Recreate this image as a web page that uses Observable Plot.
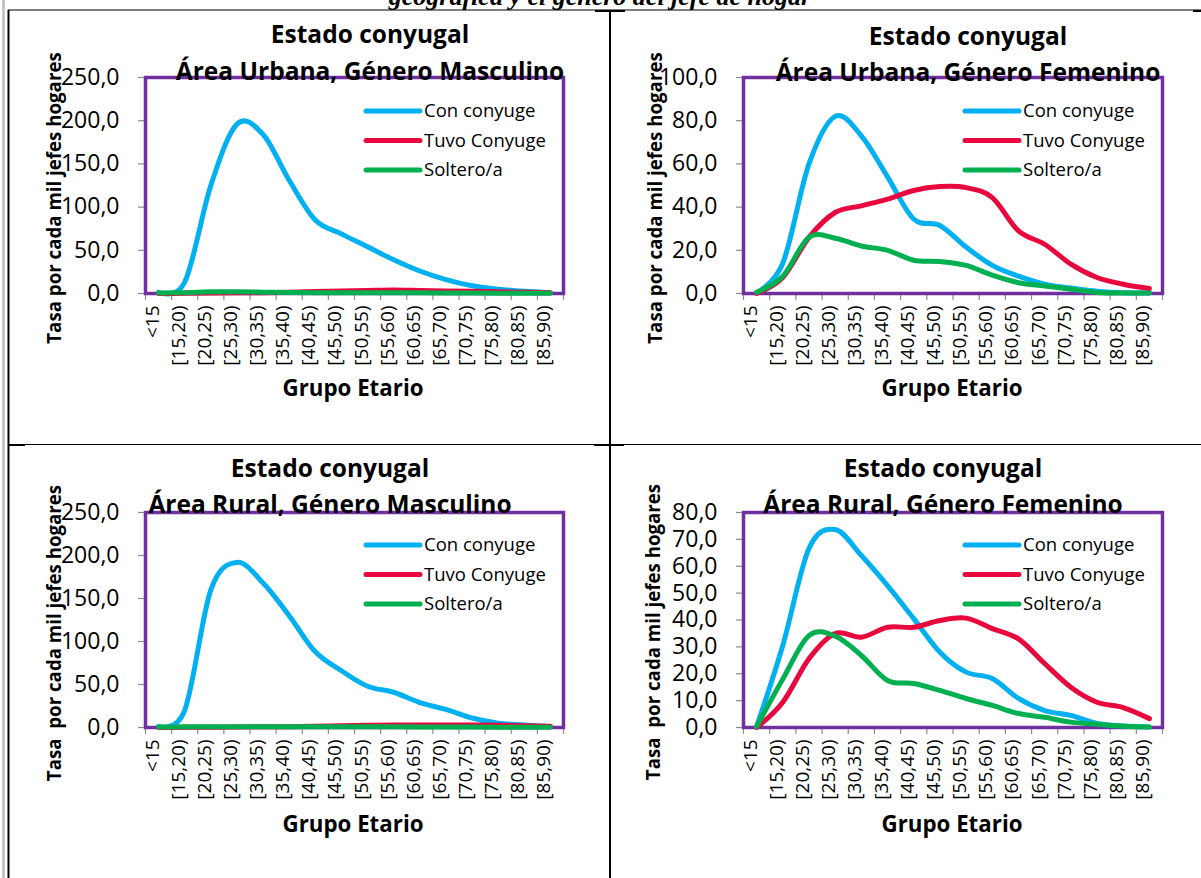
<!DOCTYPE html>
<html><head><meta charset="utf-8">
<script src="https://cdn.jsdelivr.net/npm/d3@7"></script>
<script src="https://cdn.jsdelivr.net/npm/@observablehq/plot@0.6"></script>
<style>
html,body{margin:0;padding:0;background:#fff;}
#root{position:relative;width:1201px;height:878px;overflow:hidden;font-family:'Open Sans',sans-serif;}
.panel{position:absolute;}
#overlay{position:absolute;left:0;top:0;pointer-events:none;}
</style></head><body><div id="root"></div>
<script>
// ---------- data ----------
const categories = ["<15","[15,20)","[20,25)","[25,30)","[30,35)","[35,40)","[40,45)","[45,50)","[50,55)","[55,60)","[60,65)","[65,70)","[70,75)","[75,80)","[80,85)","[85,90)"];
const seriesNames = ["Con conyuge","Tuvo Conyuge","Soltero/a"];
const seriesColors = ["#00B0F0","#E8083E","#00B050"];

const yTicksMasc = [0,50,100,150,200,250];
const yTicksUrbFem = [0,20,40,60,80,100];
const yTicksRurFem = [0,10,20,30,40,50,60,70,80];

const urbMascCon  = [1.5, 13, 125, 196, 184, 131, 85, 69, 54, 39, 26, 16, 9, 5, 2.5, 1];
const urbMascTuvo = [0, 0.2, 0.5, 0.8, 1, 1.5, 2.2, 3, 3.5, 4, 3.5, 3, 2.5, 2, 1.5, 1];
const urbMascSol  = [0.5, 1, 2, 2, 1.5, 1.2, 1, 1, 1, 1, 0.8, 0.6, 0.5, 0.4, 0.3, 0.2];

const urbFemCon  = [0.5, 14, 60, 82, 73, 54, 34.5, 31.5, 21.5, 13, 8, 4.3, 2.5, 1, 0.3, 0.2];
const urbFemTuvo = [0, 7.4, 26, 37.5, 40.6, 43.7, 47.7, 49.5, 49, 44.4, 29, 22.8, 13.6, 7.4, 4.3, 2.3];
const urbFemSol  = [0.5, 8, 26, 25.6, 22, 20, 15.4, 14.8, 13, 8.5, 5, 3.5, 2, 0.5, 0.2, 0.2];

const rurMascCon  = [1.5, 20, 160, 192, 168, 130, 88, 66, 48, 41, 29, 21, 11, 5, 3, 1];
const rurMascTuvo = [0, 0.2, 0.4, 0.6, 0.8, 1, 1.5, 2, 2.5, 2.8, 3, 3, 2.8, 2.5, 2, 1.5];
const rurMascSol  = [0.5, 0.8, 1, 1, 0.9, 0.8, 0.8, 0.8, 0.8, 0.8, 0.7, 0.6, 0.5, 0.4, 0.3, 0.3];

const rurFemCon  = [0.3, 30.5, 66.6, 73.7, 64, 52.8, 40.5, 28, 20.6, 18.2, 10.8, 6.3, 4.5, 1.5, 0.6, 0.2];
const rurFemTuvo = [0, 9.4, 25.6, 35, 33.6, 37.3, 37.3, 39.8, 40.7, 36.8, 33, 23.8, 15, 9.4, 7.4, 3.3];
const rurFemSol  = [0.3, 18, 34.2, 34, 26.8, 17.5, 16.4, 13.8, 10.8, 8.2, 5.2, 3.8, 2, 1.2, 0.5, 0.2];

const pageHeading = "geográfica y el género del jefe de hogar";
const titleLine1 = "Estado conyugal";
const yLabelUrb = "Tasa por cada mil jefes hogares";
const yLabelRur = "Tasa  por cada mil jefes hogares";
const xLabel = "Grupo Etario";

// ---------- layout ----------
const panels = [
  {left:0, top:0, width:605, height:440, mL:145, mR:42, mT:77, mB:147, yMax:250, yTicks:yTicksMasc,
   series:[urbMascCon,urbMascTuvo,urbMascSol], title2:"Área Urbana, Género Masculino", ylabel:yLabelUrb,
   tx:370, t1y:43, t2y:80, ylx:54, yly:198, gx:353, gy:396, legX:366, legY:111},
  {left:610, top:0, width:591, height:440, mL:133, mR:39, mT:77, mB:147, yMax:100, yTicks:yTicksUrbFem,
   series:[urbFemCon,urbFemTuvo,urbFemSol], title2:"Área Urbana, Género Femenino", ylabel:yLabelUrb,
   tx:968, t1y:45, t2y:81, ylx:655, yly:198, gx:952, gy:396, legX:965, legY:111},
  {left:0, top:440, width:605, height:438, mL:145, mR:42, mT:72, mB:151, yMax:250, yTicks:yTicksMasc,
   series:[rurMascCon,rurMascTuvo,rurMascSol], title2:"Área Rural, Género Masculino", ylabel:yLabelRur,
   tx:330, t1y:477, t2y:513, ylx:54, yly:633, gx:353, gy:832, legX:366, legY:545},
  {left:610, top:440, width:591, height:438, mL:133, mR:39, mT:72, mB:151, yMax:80, yTicks:yTicksRurFem,
   series:[rurFemCon,rurFemTuvo,rurFemSol], title2:"Área Rural, Género Femenino", ylabel:yLabelRur,
   tx:943, t1y:477, t2y:513, ylx:653, yly:632, gx:952, gy:832, legX:965, legY:545}
];

const root = document.getElementById("root");
const fmt = d => d.toFixed(1).replace(".", ",");
const boundaries = d3.range(categories.length + 1).map(i => i - 0.5);
const axisGray = "#8c8c8c";
const FONT = "'Open Sans', sans-serif";

for (const p of panels) {
  const marks = [
    Plot.ruleY(p.yTicks, {y: d => d, x1: () => -0.5, x2: () => -0.5, insetLeft: -7, stroke: axisGray, strokeWidth: 1.2}),
    Plot.ruleX(boundaries, {x: d => d, y1: () => 0, y2: () => 0, insetBottom: -7, stroke: axisGray, strokeWidth: 1.2}),
    Plot.text(p.yTicks, {y: d => d, frameAnchor: "left", text: d => fmt(d), textAnchor: "end", dx: -26, fontSize: 23, fill: "#000"}),
    Plot.text(categories, {x: (d, i) => i, frameAnchor: "bottom", text: d => d, rotate: -90, textAnchor: "end", dy: 12, fontSize: 19, fill: "#000"}),
    Plot.frame({stroke: "#7030A0", strokeWidth: 3.5}),
  ];
  p.series.forEach((vals, k) => {
    marks.push(Plot.line(vals.map((v, i) => ({i, v})), {x: "i", y: "v", stroke: seriesColors[k], strokeWidth: 5, curve: "cardinal", tension: 0}));
  });
  const chart = Plot.plot({
    width: p.width, height: p.height,
    marginLeft: p.mL, marginRight: p.mR, marginTop: p.mT, marginBottom: p.mB,
    x: {type: "linear", domain: [-0.5, categories.length - 0.5], axis: null},
    y: {type: "linear", domain: [0, p.yMax], axis: null},
    style: {fontFamily: FONT, background: "none", maxWidth: "none", overflow: "visible"},
    marks
  });
  const div = document.createElement("div");
  div.className = "panel";
  div.style.left = p.left + "px";
  div.style.top = p.top + "px";
  div.appendChild(chart);
  root.appendChild(div);
}

// ---------- overlay: table borders, titles, labels, legends ----------
const svg = d3.create("svg").attr("id", "overlay").attr("width", 1201).attr("height", 878)
  .attr("font-family", FONT);

svg.append("text").attr("x", 600).attr("y", 5).attr("text-anchor", "middle")
  .attr("font-family", "'Liberation Serif', serif").attr("font-weight", "bold").attr("font-style", "italic")
  .attr("font-size", 26).text(pageHeading);

const border = (x1, y1, x2, y2, w, c) => svg.append("line").attr("x1", x1).attr("y1", y1).attr("x2", x2).attr("y2", y2)
  .attr("stroke", c || "#000").attr("stroke-width", w);
border(3.5, 0, 3.5, 878, 2.5, "#bdbdbd");
border(8.5, 10, 8.5, 878, 2, "#000");
border(8, 10, 1201, 10, 1.2, "#000");
border(610, 10, 610, 878, 2, "#000");
border(8, 444.5, 1201, 444.5, 1.2, "#000");
border(595, 11, 625, 11, 2, "#000");
border(1193, 11, 1201, 11, 2, "#000");
border(9, 445, 25, 445, 2, "#000");
border(594, 445, 624, 445, 2, "#000");

for (const p of panels) {
  svg.append("text").attr("x", p.tx).attr("y", p.t1y).attr("text-anchor", "middle")
    .attr("font-weight", "bold").attr("font-size", 24.5).text(titleLine1);
  svg.append("text").attr("x", p.tx).attr("y", p.t2y).attr("text-anchor", "middle")
    .attr("font-weight", "bold").attr("font-size", 24.5).text(p.title2);
  svg.append("text").attr("transform", `translate(${p.ylx},${p.yly}) rotate(-90)`)
    .attr("text-anchor", "middle").attr("dy", "0.35em").attr("font-weight", "bold").attr("font-size", 18.7)
    .attr("xml:space", "preserve").style("white-space", "pre").text(p.ylabel);
  svg.append("text").attr("x", p.gx).attr("y", p.gy).attr("text-anchor", "middle")
    .attr("font-weight", "bold").attr("font-size", 22.3).text(xLabel);
  seriesNames.forEach((name, k) => {
    const y = p.legY + k * 29.5;
    svg.append("line").attr("x1", p.legX).attr("x2", p.legX + 54).attr("y1", y).attr("y2", y)
      .attr("stroke", seriesColors[k]).attr("stroke-width", 5).attr("stroke-linecap", "round");
    svg.append("text").attr("x", p.legX + 58).attr("y", y).attr("dy", "0.35em")
      .attr("font-size", 18.5).text(name);
  });
}
root.appendChild(svg.node());
</script>
</body></html>
